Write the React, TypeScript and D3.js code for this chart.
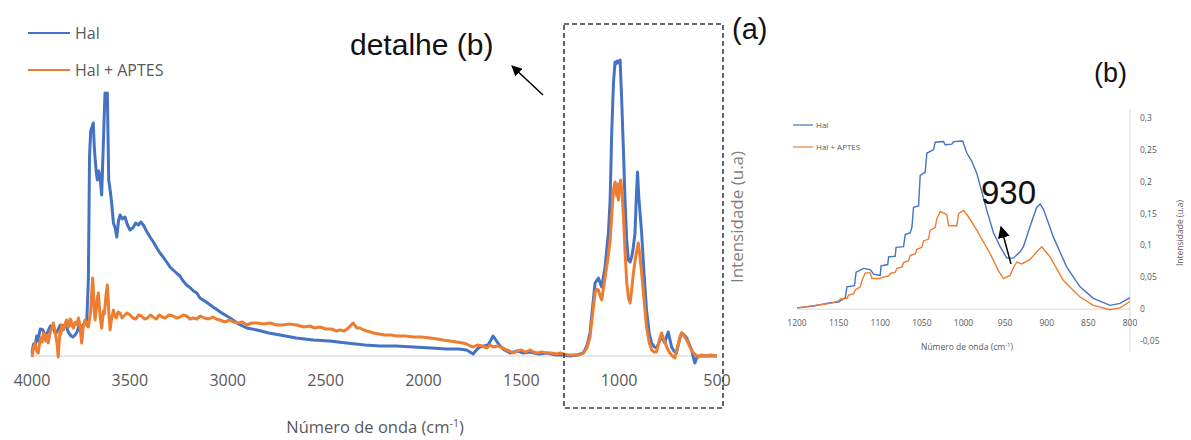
import React from 'react';
import * as d3 from 'd3';

// ---------- data: main spectrum (a) ----------
const mainTicks = [4000, 3500, 3000, 2500, 2000, 1500, 1000, 500];
const bTicksX = [1200, 1150, 1100, 1050, 1000, 950, 900, 850, 800];
const bTicksY = [-0.05, 0, 0.05, 0.1, 0.15, 0.2, 0.25, 0.3];
const seriesNames = ['Hal', 'Hal + APTES'];

const halMain: [number, number][] = [
  [4000, 0.003], [3992, 0.012], [3985, 0.008], [3976, 0.02], [3970, 0.015], [3958, 0.027], [3944, 0.026],
  [3932, 0.019], [3920, 0.024], [3906, 0.03], [3893, 0.029], [3880, 0.022], [3870, 0.025], [3855, 0.031],
  [3842, 0.028], [3828, 0.033], [3815, 0.024], [3800, 0.02], [3790, 0.019], [3780, 0.021], [3770, 0.024],
  [3758, 0.031], [3746, 0.029], [3732, 0.033], [3720, 0.036], [3712, 0.076], [3706, 0.2], [3700, 0.225],
  [3695, 0.228], [3687, 0.233], [3682, 0.21], [3678, 0.199], [3672, 0.185], [3666, 0.176], [3659, 0.185],
  [3652, 0.179], [3644, 0.161], [3640, 0.185], [3636, 0.209], [3631, 0.24], [3627, 0.263], [3620, 0.26],
  [3615, 0.263], [3608, 0.176], [3600, 0.165], [3593, 0.153], [3584, 0.133], [3575, 0.128], [3567, 0.119],
  [3558, 0.135], [3550, 0.141], [3538, 0.137], [3525, 0.139], [3512, 0.131], [3499, 0.126], [3485, 0.128],
  [3470, 0.133], [3457, 0.131], [3444, 0.134], [3431, 0.131], [3415, 0.125], [3397, 0.119], [3380, 0.114],
  [3362, 0.108], [3346, 0.103], [3330, 0.099], [3312, 0.094], [3295, 0.089], [3279, 0.086], [3262, 0.083],
  [3244, 0.08], [3228, 0.075], [3210, 0.071], [3190, 0.068], [3175, 0.065], [3158, 0.063], [3142, 0.058],
  [3110, 0.054], [3075, 0.049], [3030, 0.043], [2988, 0.038], [2945, 0.032], [2903, 0.028], [2850, 0.026],
  [2790, 0.023], [2733, 0.021], [2650, 0.018], [2563, 0.016], [2480, 0.015], [2392, 0.013], [2300, 0.011],
  [2222, 0.01], [2140, 0.01], [2052, 0.009], [1960, 0.008], [1881, 0.007], [1820, 0.007], [1779, 0.006],
  [1746, 0.002], [1725, 0.007], [1711, 0.009], [1690, 0.01], [1670, 0.011], [1655, 0.016], [1644, 0.02],
  [1630, 0.016], [1609, 0.01], [1585, 0.006], [1557, 0.003], [1520, 0.005], [1490, 0.003], [1455, 0.004],
  [1410, 0.002], [1370, 0.003], [1320, 0.001], [1285, 0.001], [1251, 0.0], [1215, 0.001], [1183, 0.003],
  [1165, 0.01], [1149, 0.023], [1135, 0.05], [1123, 0.073], [1106, 0.078], [1089, 0.069], [1072, 0.089],
  [1055, 0.123], [1046, 0.156], [1038, 0.223], [1029, 0.273], [1021, 0.294], [1016, 0.292], [1010, 0.295],
  [1003, 0.293], [995, 0.296], [987, 0.256], [978, 0.205], [970, 0.156], [962, 0.118], [953, 0.096],
  [944, 0.094], [936, 0.099], [928, 0.108], [919, 0.123], [912, 0.16], [906, 0.184], [900, 0.16],
  [885, 0.123], [872, 0.08], [860, 0.046], [846, 0.022], [834, 0.013], [820, 0.009], [809, 0.008],
  [795, 0.014], [783, 0.02], [774, 0.016], [766, 0.013], [757, 0.02], [749, 0.024], [740, 0.016],
  [732, 0.009], [720, 0.005], [707, 0.003], [694, 0.015], [681, 0.023], [668, 0.021], [655, 0.018],
  [642, 0.012], [630, 0.006], [620, -0.002], [613, -0.007], [604, -0.002], [596, 0.0], [560, 0.0], [500, 0.0],
];

const aptesMain: [number, number][] = [
  [4000, -0.001], [3993, 0.008], [3985, 0.013], [3976, 0.005], [3968, 0.003], [3962, 0.012], [3955, 0.018],
  [3948, 0.014], [3942, 0.023], [3936, 0.02], [3930, 0.015], [3924, 0.021], [3917, 0.013], [3911, 0.02],
  [3905, 0.025], [3898, 0.028], [3891, 0.033], [3884, 0.027], [3878, 0.02], [3872, 0.012], [3866, -0.001],
  [3861, 0.014], [3857, 0.025], [3852, 0.022], [3848, 0.031], [3841, 0.026], [3835, 0.028], [3829, 0.033],
  [3823, 0.036], [3816, 0.029], [3810, 0.03], [3805, 0.037], [3800, 0.035], [3794, 0.03], [3789, 0.028],
  [3782, 0.033], [3775, 0.034], [3769, 0.031], [3763, 0.038], [3758, 0.034], [3755, 0.03], [3750, 0.02],
  [3746, 0.013], [3742, 0.022], [3738, 0.03], [3733, 0.033], [3729, 0.036], [3720, 0.031], [3712, 0.029],
  [3706, 0.037], [3700, 0.045], [3695, 0.062], [3690, 0.078], [3687, 0.068], [3684, 0.055], [3681, 0.044],
  [3678, 0.036], [3674, 0.042], [3670, 0.05], [3666, 0.058], [3661, 0.063], [3656, 0.05], [3652, 0.04],
  [3648, 0.033], [3644, 0.028], [3640, 0.036], [3635, 0.045], [3631, 0.042], [3627, 0.049], [3621, 0.062],
  [3615, 0.071], [3611, 0.058], [3608, 0.045], [3604, 0.034], [3601, 0.026], [3596, 0.034], [3590, 0.04],
  [3584, 0.046], [3577, 0.04], [3570, 0.038], [3560, 0.044], [3550, 0.043], [3540, 0.038], [3530, 0.04],
  [3515, 0.043], [3499, 0.041], [3485, 0.038], [3470, 0.037], [3455, 0.041], [3440, 0.04], [3425, 0.037],
  [3410, 0.038], [3395, 0.041], [3382, 0.039], [3365, 0.037], [3350, 0.041], [3335, 0.039], [3320, 0.038],
  [3300, 0.041], [3279, 0.04], [3262, 0.038], [3244, 0.039], [3228, 0.041], [3210, 0.04], [3192, 0.037],
  [3176, 0.038], [3158, 0.037], [3140, 0.04], [3120, 0.038], [3098, 0.037], [3075, 0.039], [3058, 0.037],
  [3040, 0.036], [3015, 0.034], [2988, 0.036], [2970, 0.034], [2950, 0.033], [2925, 0.034], [2903, 0.031],
  [2878, 0.033], [2850, 0.033], [2815, 0.032], [2784, 0.033], [2750, 0.031], [2720, 0.031], [2685, 0.032],
  [2647, 0.031], [2612, 0.029], [2580, 0.03], [2555, 0.028], [2528, 0.029], [2500, 0.027], [2470, 0.027],
  [2445, 0.025], [2426, 0.026], [2405, 0.025], [2390, 0.027], [2378, 0.029], [2370, 0.031], [2358, 0.033],
  [2348, 0.03], [2340, 0.028], [2324, 0.028], [2305, 0.026], [2290, 0.025], [2270, 0.024], [2256, 0.023],
  [2225, 0.022], [2200, 0.021], [2165, 0.021], [2136, 0.02], [2095, 0.02], [2050, 0.019], [2010, 0.019],
  [1966, 0.018], [1930, 0.017], [1900, 0.016], [1865, 0.015], [1830, 0.014], [1800, 0.013], [1780, 0.012],
  [1760, 0.01], [1746, 0.009], [1725, 0.011], [1700, 0.01], [1675, 0.008], [1660, 0.011], [1644, 0.009],
  [1620, 0.01], [1593, 0.008], [1575, 0.006], [1560, 0.005], [1540, 0.003], [1520, 0.005], [1500, 0.006],
  [1478, 0.004], [1455, 0.006], [1438, 0.004], [1420, 0.003], [1395, 0.004], [1370, 0.003], [1345, 0.003],
  [1320, 0.002], [1300, 0.003], [1285, 0.002], [1260, 0.001], [1230, 0.001], [1205, 0.001], [1183, 0.003],
  [1165, 0.008], [1149, 0.019], [1135, 0.043], [1123, 0.063], [1115, 0.067], [1106, 0.066], [1097, 0.06],
  [1089, 0.056], [1077, 0.072], [1064, 0.089], [1055, 0.101], [1046, 0.116], [1040, 0.134], [1033, 0.156],
  [1027, 0.168], [1021, 0.174], [1016, 0.166], [1012, 0.16], [1008, 0.172], [1004, 0.156], [998, 0.168],
  [992, 0.176], [985, 0.163], [978, 0.139], [970, 0.105], [961, 0.073], [952, 0.058], [944, 0.053],
  [936, 0.066], [927, 0.083], [915, 0.1], [902, 0.113], [894, 0.1], [885, 0.083], [872, 0.055],
  [860, 0.029], [846, 0.013], [834, 0.006], [820, 0.004], [809, 0.004], [796, 0.015], [783, 0.023],
  [775, 0.018], [766, 0.014], [755, 0.008], [741, 0.003], [728, 0.0], [715, -0.002], [708, 0.004],
  [700, 0.01], [690, 0.018], [681, 0.023], [668, 0.02], [655, 0.016], [638, 0.009], [621, 0.003],
  [608, 0.001], [596, -0.001], [580, 0.001], [560, 0.0], [530, 0.001], [500, 0.0],
];

// ---------- data: detail (b) ----------
const halDetail: [number, number][] = [
  [1200, 0.002], [1180, 0.005], [1160, 0.01], [1150, 0.011], [1142, 0.018], [1140, 0.035], [1131, 0.037],
  [1129, 0.058], [1120, 0.064], [1112, 0.062], [1108, 0.055], [1100, 0.053], [1099, 0.068], [1091, 0.07],
  [1090, 0.082], [1082, 0.083], [1081, 0.097], [1072, 0.098], [1070, 0.117], [1064, 0.12], [1062, 0.128],
  [1060, 0.16], [1054, 0.162], [1052, 0.21], [1046, 0.215], [1044, 0.245], [1036, 0.25], [1034, 0.262],
  [1024, 0.263], [1022, 0.258], [1014, 0.259], [1012, 0.263], [1001, 0.264], [996, 0.245], [990, 0.232],
  [984, 0.213], [972, 0.155], [964, 0.12], [956, 0.098], [948, 0.08], [940, 0.08], [932, 0.09],
  [928, 0.098], [920, 0.13], [912, 0.16], [908, 0.165], [904, 0.157], [892, 0.113], [876, 0.066],
  [860, 0.035], [844, 0.017], [824, 0.006], [812, 0.009], [800, 0.018],
];

const aptesDetail: [number, number][] = [
  [1200, 0.002], [1160, 0.009], [1150, 0.013], [1148, 0.016], [1140, 0.017], [1138, 0.022], [1132, 0.024],
  [1130, 0.03], [1124, 0.035], [1122, 0.045], [1118, 0.057], [1112, 0.057], [1110, 0.048], [1100, 0.048],
  [1098, 0.05], [1090, 0.052], [1088, 0.056], [1082, 0.058], [1080, 0.064], [1074, 0.066], [1072, 0.073],
  [1066, 0.076], [1064, 0.084], [1058, 0.087], [1056, 0.094], [1050, 0.097], [1048, 0.107], [1042, 0.11],
  [1040, 0.124], [1034, 0.128], [1032, 0.142], [1028, 0.153], [1022, 0.15], [1020, 0.148], [1018, 0.131],
  [1008, 0.131], [1006, 0.15], [1000, 0.155], [994, 0.145], [984, 0.124], [968, 0.087], [958, 0.06],
  [952, 0.048], [944, 0.053], [940, 0.065], [936, 0.074], [930, 0.071], [920, 0.078], [912, 0.09],
  [906, 0.098], [896, 0.082], [880, 0.045], [860, 0.019], [844, 0.006], [824, -0.001], [812, 0.002], [800, 0.012],
];

const BLUE = '#4472C4';
const ORANGE = '#ED7D31';
const GRAY_TXT = '#595959';
const SANS = '"Open Sans", "Noto Sans", sans-serif';
const ARIAL = '"Liberation Sans", Arial, sans-serif';

export default function App() {
  const xMain = d3.scaleLinear().domain([4000, 500]).range([32, 717]);
  const yMain = d3.scaleLinear().domain([0, 0.3]).range([356, 56]);
  const lineMain = d3.line<[number, number]>().x(d => xMain(d[0])).y(d => yMain(d[1]));

  const xB = d3.scaleLinear().domain([1200, 800]).range([797, 1130]);
  const yB = d3.scaleLinear().domain([-0.05, 0.3]).range([341, 118]);
  const lineB = d3.line<[number, number]>().x(d => xB(d[0])).y(d => yB(d[1]));

  const fmtB = (v: number) => (v === 0 ? '0' : String(+v.toFixed(2)).replace('.', ','));

  return (
    <svg width={1191} height={440} style={{ position: 'absolute', left: 0, top: 0, background: '#fff' }}>
      <defs>
        <marker id="arrSmall" viewBox="0 0 10 10" refX="9" refY="5" markerWidth="7" markerHeight="7" orient="auto-start-reverse">
          <path d="M0,0 L10,5 L0,10 z" fill="#000" />
        </marker>
        <marker id="arrBig" viewBox="0 0 10 10" refX="9" refY="5" markerWidth="8" markerHeight="8" orient="auto-start-reverse">
          <path d="M0,0 L10,5 L0,10 z" fill="#000" />
        </marker>
      </defs>
      <rect x={0} y={0} width={1191} height={440} fill="#fff" />

      {/* ---------- (a) main chart ---------- */}
      <line x1={xMain(4000)} x2={xMain(500)} y1={yMain(0)} y2={yMain(0)} stroke="#d0d0d0" strokeWidth={1} />
      <path d={lineMain(halMain) || ''} fill="none" stroke={BLUE} strokeWidth={3} strokeLinejoin="round" />
      <path d={lineMain(aptesMain) || ''} fill="none" stroke={ORANGE} strokeWidth={3} strokeLinejoin="round" />
      {mainTicks.map(t => (
        <text key={t} x={xMain(t)} y={386} textAnchor="middle" fontFamily={SANS} fontSize={16} fill={GRAY_TXT}>{t}</text>
      ))}
      <text x={375} y={433} textAnchor="middle" fontFamily={SANS} fontSize={16.5} fill={GRAY_TXT}>
        Número de onda (cm<tspan dy={-6} fontSize={10.5}>-1</tspan><tspan dy={6}>)</tspan>
      </text>
      <text transform="translate(743,217) rotate(-90)" textAnchor="middle" fontFamily={SANS} fontSize={17} fill="#7f7f7f">Intensidade (u.a)</text>

      {/* legend (a) */}
      {seriesNames.map((n, i) => (
        <g key={n}>
          <line x1={28} x2={70} y1={33 + i * 37} y2={33 + i * 37} stroke={i === 0 ? BLUE : ORANGE} strokeWidth={2} />
          <text x={75} y={39 + i * 37} fontFamily={SANS} fontSize={16} fill={GRAY_TXT}>{n}</text>
        </g>
      ))}

      {/* detail box and annotations */}
      <rect x={564} y={24} width={159} height={384} fill="none" stroke="#3a3f4a" strokeWidth={1.6} strokeDasharray="5,3" />
      <text x={350} y={55} fontFamily={ARIAL} fontSize={30} fill="#111">detalhe (b)</text>
      <line x1={543} x2={512} y1={95} y2={66} stroke="#000" strokeWidth={1.5} markerEnd="url(#arrSmall)" />
      <text x={732} y={39} fontFamily={ARIAL} fontSize={29} fill="#111">(a)</text>

      {/* ---------- (b) detail chart ---------- */}
      <line x1={xB(1200)} x2={xB(800)} y1={yB(0)} y2={yB(0)} stroke="#d9d9d9" strokeWidth={1} />
      <line x1={xB(800)} x2={xB(800)} y1={110} y2={352} stroke="#d9d9d9" strokeWidth={1} />
      <path d={lineB(halDetail) || ''} fill="none" stroke={BLUE} strokeWidth={1.4} />
      <path d={lineB(aptesDetail) || ''} fill="none" stroke={ORANGE} strokeWidth={1.4} />
      {bTicksX.map(t => (
        <text key={t} x={xB(t)} y={326} textAnchor="middle" fontFamily={SANS} fontSize={8.5} fill={GRAY_TXT}>{t}</text>
      ))}
      {bTicksY.map(t => (
        <text key={t} x={1140} y={yB(t) + 3} fontFamily={SANS} fontSize={8.5} fill={GRAY_TXT}>{fmtB(t)}</text>
      ))}
      <text x={967} y={350} textAnchor="middle" fontFamily={SANS} fontSize={8.5} fill={GRAY_TXT}>
        Número de onda (cm<tspan dy={-3} fontSize={6}>-1</tspan><tspan dy={3}>)</tspan>
      </text>
      <text transform="translate(1183,233) rotate(-90)" textAnchor="middle" fontFamily={SANS} fontSize={8.5} fill={GRAY_TXT}>Intensidade (u.a)</text>
      {seriesNames.map((n, i) => (
        <g key={n}>
          <line x1={793} x2={813} y1={125 + i * 22} y2={125 + i * 22} stroke={i === 0 ? BLUE : ORANGE} strokeWidth={1.2} />
          <text x={816} y={128 + i * 22} fontFamily={SANS} fontSize={8} fill={GRAY_TXT}>{n}</text>
        </g>
      ))}
      <text x={981} y={204} fontFamily={ARIAL} fontSize={33} fill="#111">930</text>
      <line x1={1011} x2={1001} y1={264} y2={227} stroke="#000" strokeWidth={1.5} markerEnd="url(#arrBig)" />
      <text x={1094} y={82} fontFamily={ARIAL} fontSize={27} fill="#111">(b)</text>
    </svg>
  );
}
